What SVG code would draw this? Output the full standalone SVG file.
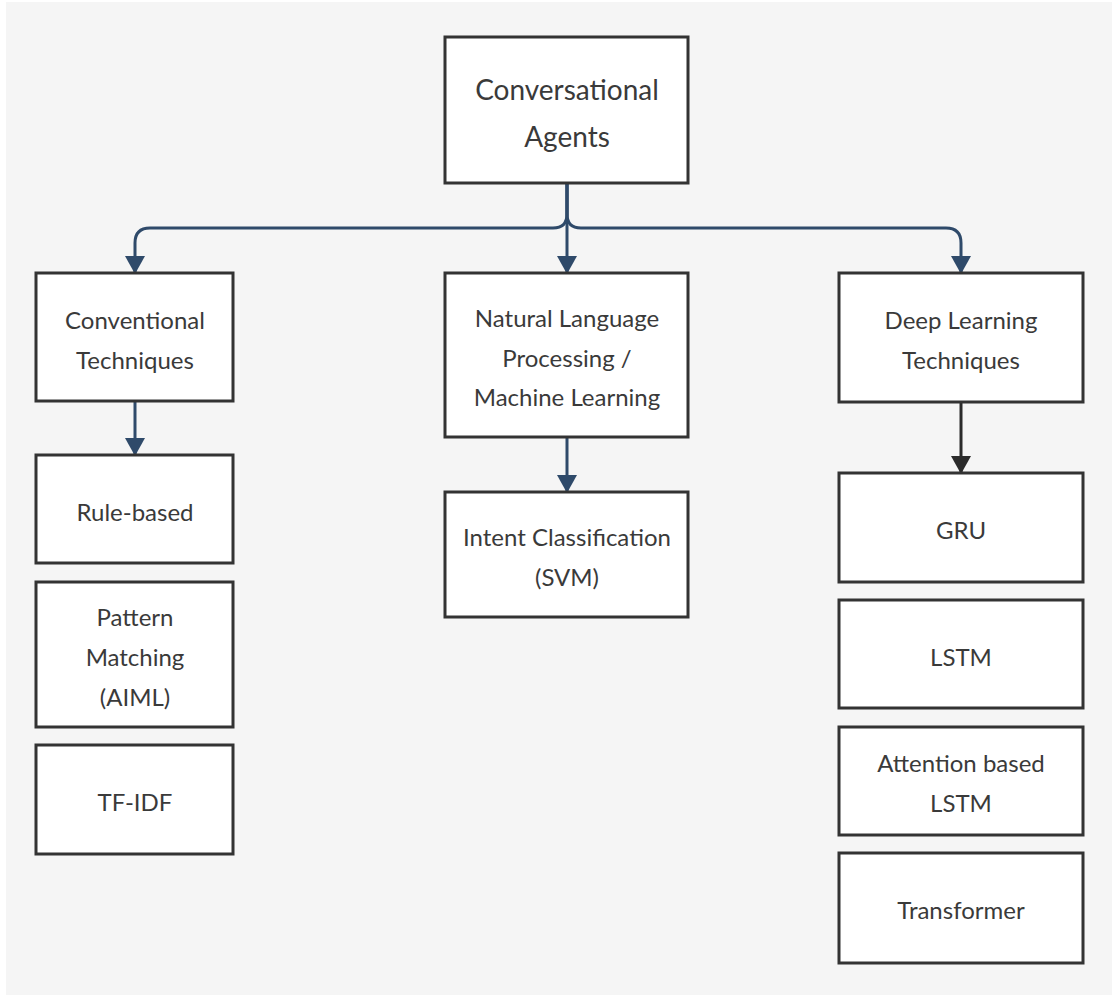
<svg xmlns="http://www.w3.org/2000/svg" width="1112" height="996" viewBox="0 0 1112 996">
  <style>
    .box { fill: #ffffff; stroke: #333333; stroke-width: 3; }
    .lbl { font-family: Lato, "Open Sans", "Liberation Sans", sans-serif; font-size: 24px; fill: #3a3a3a; text-anchor: middle; }
    .big { font-size: 28px; }
    .edge { fill: none; stroke: #2f4a6a; stroke-width: 3; }
    .edge-dark { fill: none; stroke: #2b2b2b; stroke-width: 3; }
  </style>
  <defs>
    <marker id="arrow-blue" viewBox="0 0 18 20" refX="17" refY="10" markerWidth="18" markerHeight="20" markerUnits="userSpaceOnUse" orient="auto">
      <path d="M0,0 L18,10 L0,20 Z" fill="#2f4a6a"/>
    </marker>
    <marker id="arrow-dark" viewBox="0 0 18 20" refX="17" refY="10" markerWidth="18" markerHeight="20" markerUnits="userSpaceOnUse" orient="auto">
      <path d="M0,0 L18,10 L0,20 Z" fill="#2b2b2b"/>
    </marker>
  </defs>

  <!-- canvas -->
  <rect x="6" y="2" width="1106" height="993" fill="#f5f5f5"/>

  <!-- connectors -->
  <g id="connectors">
    <path class="edge" d="M567,183 L567,273" marker-end="url(#arrow-blue)"/>
    <path class="edge" d="M567,184 L567,214 Q567,228 553,228 L150,228 Q135,228 135,243 L135,273" marker-end="url(#arrow-blue)"/>
    <path class="edge" d="M567,184 L567,214 Q567,228 581,228 L946,228 Q961,228 961,243 L961,273" marker-end="url(#arrow-blue)"/>
    <path class="edge" d="M135,401 L135,455" marker-end="url(#arrow-blue)"/>
    <path class="edge" d="M567,437 L567,492" marker-end="url(#arrow-blue)"/>
    <path class="edge-dark" d="M961,402 L961,473" marker-end="url(#arrow-dark)"/>
  </g>

  <!-- root -->
  <g id="node-agents">
    <rect class="box" x="445" y="37" width="243" height="146"/>
    <text class="lbl big" x="567" y="100">Conversational</text>
    <text class="lbl big" x="567" y="147">Agents</text>
  </g>

  <!-- left column -->
  <g id="node-conventional">
    <rect class="box" x="36" y="273" width="197" height="128"/>
    <text class="lbl" x="135" y="329">Conventional</text>
    <text class="lbl" x="135" y="369">Techniques</text>
  </g>
  <g id="node-rule-based">
    <rect class="box" x="36" y="455" width="197" height="108"/>
    <text class="lbl" x="135" y="521">Rule-based</text>
  </g>
  <g id="node-pattern-matching">
    <rect class="box" x="36" y="582" width="197" height="145"/>
    <text class="lbl" x="135" y="626">Pattern</text>
    <text class="lbl" x="135" y="666">Matching</text>
    <text class="lbl" x="135" y="706">(AIML)</text>
  </g>
  <g id="node-tfidf">
    <rect class="box" x="36" y="745" width="197" height="109"/>
    <text class="lbl" x="135" y="811">TF-IDF</text>
  </g>

  <!-- middle column -->
  <g id="node-nlp-ml">
    <rect class="box" x="445" y="273" width="243" height="164"/>
    <text class="lbl" x="567" y="327">Natural Language</text>
    <text class="lbl" x="567" y="367">Processing /</text>
    <text class="lbl" x="567" y="406">Machine Learning</text>
  </g>
  <g id="node-intent">
    <rect class="box" x="445" y="492" width="243" height="125"/>
    <text class="lbl" x="567" y="546">Intent Classification</text>
    <text class="lbl" x="567" y="586">(SVM)</text>
  </g>

  <!-- right column -->
  <g id="node-deep-learning">
    <rect class="box" x="839" y="273" width="244" height="129"/>
    <text class="lbl" x="961" y="329">Deep Learning</text>
    <text class="lbl" x="961" y="369">Techniques</text>
  </g>
  <g id="node-gru">
    <rect class="box" x="839" y="473" width="244" height="109"/>
    <text class="lbl" x="961" y="539">GRU</text>
  </g>
  <g id="node-lstm">
    <rect class="box" x="839" y="600" width="244" height="108"/>
    <text class="lbl" x="961" y="666">LSTM</text>
  </g>
  <g id="node-attention-lstm">
    <rect class="box" x="839" y="727" width="244" height="108"/>
    <text class="lbl" x="961" y="772">Attention based</text>
    <text class="lbl" x="961" y="812">LSTM</text>
  </g>
  <g id="node-transformer">
    <rect class="box" x="839" y="853" width="244" height="110"/>
    <text class="lbl" x="961" y="919">Transformer</text>
  </g>
</svg>
